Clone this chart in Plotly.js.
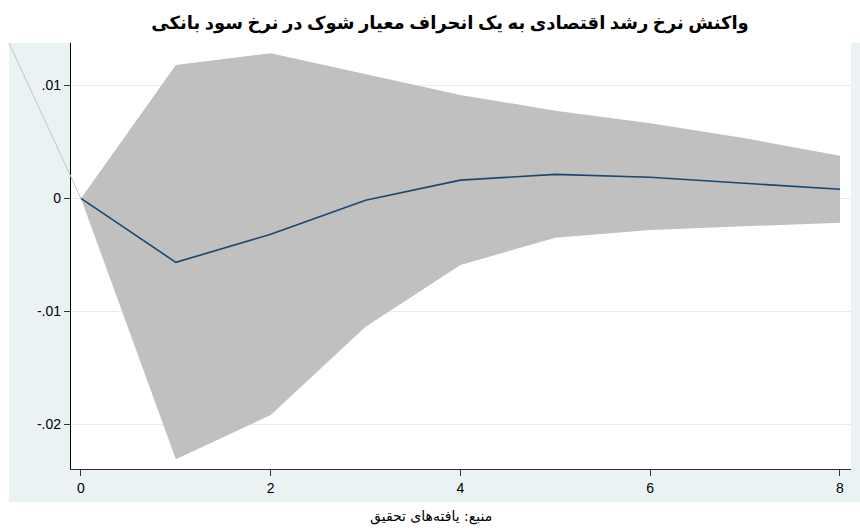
<!DOCTYPE html>
<html>
<head>
<meta charset="utf-8">
<script src="https://cdn.plot.ly/plotly-3.0.1.min.js"></script>
<style>html,body{margin:0;padding:0;background:#fff;}#chart{width:860px;height:530px;}</style>
</head>
<body>
<div id="chart"></div>
<script>
// Horizon (steps)
var steps = [0, 1, 2, 3, 4, 5, 6, 7, 8];
// Impulse response
var irf = [0, -0.00566, -0.00318, -0.00017, 0.00162, 0.00213, 0.00187, 0.00134, 0.00081];
// Confidence band
var upper = [0, 0.01181, 0.01285, 0.01102, 0.00916, 0.00777, 0.00665, 0.00532, 0.00378];
var lower = [0, -0.0231, -0.01918, -0.01136, -0.0059, -0.00348, -0.0028, -0.0025, -0.00215];
// Tick labels
var yTickVals = [-0.02, -0.01, 0, 0.01];
var yTickText = ['-.02', '-.01', '0', '.01'];
var xTickVals = [0, 2, 4, 6, 8];

var titleText = 'واکنش نرخ رشد اقتصادی به یک انحراف معیار شوک در نرخ سود بانکی';
var captionText = 'منبع: یافته‌های تحقیق';

var bandX = steps.concat(steps.slice().reverse());
var bandY = upper.concat(lower.slice().reverse());

var traces = [
  {
    x: bandX, y: bandY, type: 'scatter', mode: 'lines',
    fill: 'toself', fillcolor: '#c0c0c0',
    line: {width: 0, color: '#c0c0c0'},
    hoverinfo: 'skip', showlegend: false
  },
  {
    x: steps, y: irf, type: 'scatter', mode: 'lines',
    line: {color: '#1a476f', width: 1.6},
    showlegend: false
  }
];

var layout = {
  width: 860, height: 530,
  margin: {l: 71, r: 9, t: 43, b: 61},
  paper_bgcolor: '#ffffff',
  plot_bgcolor: 'rgba(0,0,0,0)',
  font: {family: 'Liberation Sans, Arial, sans-serif', size: 14, color: '#000'},
  title: {
    text: '<b>' + titleText + '</b>',
    x: 0.486, xref: 'paper', xanchor: 'center',
    y: 0.957, yref: 'container', yanchor: 'middle',
    font: {family: 'Liberation Serif, DejaVu Serif, DejaVu Sans, serif', size: 18, color: '#000'}
  },
  xaxis: {
    range: [-0.105, 8.116],
    tickvals: xTickVals, ticktext: xTickVals.map(String),
    ticks: 'outside', ticklen: 6, tickwidth: 1, tickcolor: '#333',
    showline: true, linecolor: '#333', linewidth: 1.2,
    showgrid: false, zeroline: false,
    tickfont: {size: 14, color: '#000'}
  },
  yaxis: {
    range: [-0.02396, 0.01376],
    tickvals: yTickVals, ticktext: yTickText,
    ticks: 'outside', ticklen: 6, tickwidth: 1, tickcolor: '#333',
    showline: true, linecolor: '#000', linewidth: 1.2,
    showgrid: true, gridcolor: '#e4eef0', gridwidth: 1,
    zeroline: false,
    tickfont: {size: 14, color: '#000'}
  },
  shapes: [
    {type: 'rect', xref: 'paper', yref: 'paper', x0: -0.0795, x1: 1.02, y0: -0.0775, y1: 1,
     fillcolor: '#eaf2f3', line: {width: 0}, layer: 'below'},
    {type: 'rect', xref: 'paper', yref: 'paper', x0: 0, x1: 1, y0: 0, y1: 1,
     fillcolor: '#ffffff', line: {width: 0}, layer: 'below'},
    {type: 'line', xref: 'paper', yref: 'paper', x0: -0.0795, y0: 1, x1: 0.0128, y1: 0.635,
     line: {color: '#c4c4c4', width: 1}, layer: 'above'}
  ],
  annotations: [
    {text: captionText, xref: 'paper', yref: 'paper', x: 0.462, y: -0.087,
     xanchor: 'center', yanchor: 'top', showarrow: false,
     font: {family: 'DejaVu Sans, Noto Sans, sans-serif', size: 14, color: '#000'}}
  ]
};

Plotly.newPlot('chart', traces, layout, {displayModeBar: false, staticPlot: true});
</script>
</body>
</html>
